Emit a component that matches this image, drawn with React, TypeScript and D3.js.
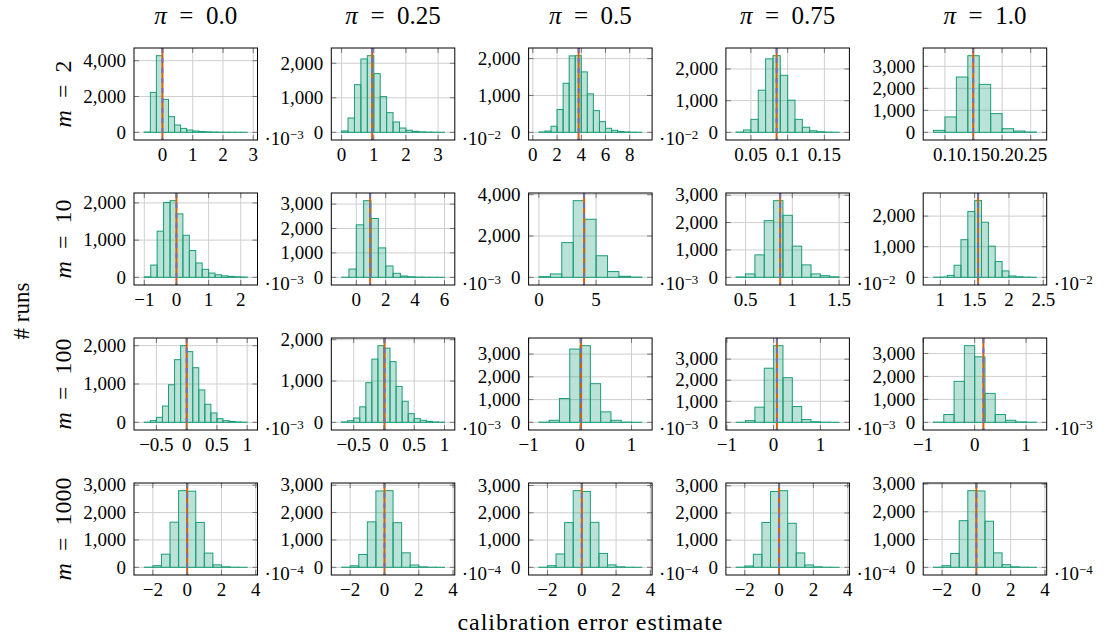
import React from 'react';
import * as d3 from 'd3';

const piLabels = ['0.0', '0.25', '0.5', '0.75', '1.0'];
const mLabels = ['2', '10', '100', '1000'];

// histogram bin range per panel [row][col]
const binLo = [
  [-0.6, 0, 0.5, 0.03, 0.08],
  [-1.0, -1.0, 0, 0.4, 0.9],
  [-0.7, -0.7, -0.8, -0.8, -0.8],
  [-2.5, -2.5, -2.5, -2.5, -2.5],
];
const binHi = [
  [2.8, 3.2, 9.0, 0.17, 0.26],
  [2.2, 6.0, 9, 1.5, 2.4],
  [1.0, 1.0, 1.2, 1.4, 1.2],
  [3.5, 3.5, 3.5, 3.5, 3.5],
];

const countsM2 = [
  [20, 2230, 4280, 1840, 875, 410, 220, 130, 75, 50, 30, 20, 12, 8, 5, 3, 2],
  [40, 415, 1380, 2125, 2220, 1700, 1035, 570, 300, 125, 60, 30, 15, 8, 4, 2],
  [10, 35, 165, 620, 1330, 2075, 2080, 1640, 1045, 590, 290, 110, 55, 25, 12, 5, 3],
  [10, 75, 410, 1330, 2320, 2420, 1800, 1015, 410, 160, 50, 20, 8, 3],
  [90, 700, 2515, 3485, 2180, 850, 165, 60, 15],
];
const countsM10 = [
  [15, 330, 1240, 2010, 2060, 1705, 1130, 720, 385, 215, 115, 70, 40, 25, 15, 8],
  [5, 340, 2150, 3140, 2410, 1205, 465, 165, 55, 25, 12, 6, 3, 2],
  [35, 165, 1680, 3710, 2810, 1045, 280, 50, 15],
  [15, 125, 820, 2070, 2800, 2265, 1140, 455, 125, 60, 20],
  [5, 10, 65, 395, 1230, 2150, 2505, 1800, 1020, 515, 210, 45, 20, 8, 3],
];
const countsM100 = [
  [5, 45, 130, 425, 980, 1635, 2000, 1845, 1425, 845, 470, 245, 95, 45, 25, 10, 5],
  [10, 40, 105, 375, 960, 1530, 1855, 1795, 1470, 870, 510, 210, 90, 50, 25, 10, 5],
  [10, 90, 1050, 3220, 3370, 1700, 460, 90, 12, 3],
  [5, 80, 720, 2570, 3640, 2120, 750, 130, 30, 8, 3],
  [10, 340, 1785, 3340, 2855, 1260, 340, 90, 20, 5],
];
const countsM1000 = [
  [5, 60, 480, 1650, 2800, 2780, 1640, 520, 90, 20, 5, 2],
  [5, 55, 470, 1660, 2790, 2800, 1630, 530, 85, 18, 5, 2],
  [5, 60, 490, 1640, 2810, 2780, 1650, 510, 90, 20, 5, 2],
  [5, 50, 480, 1650, 2790, 2820, 1620, 530, 88, 20, 5, 2],
  [5, 60, 500, 1680, 2760, 2750, 1660, 520, 95, 20, 5, 2],
];
const counts = [countsM2, countsM10, countsM100, countsM1000];

const refLines = [
  [0.0, 0.95, 3.78, 0.085, 0.1495],
  [0.0, 0.94, 3.95, 0.87, 1.55],
  [0.0, 0.01, 0.02, 0.07, 0.17],
  [0, 0, 0, 0, 0],
];

const xTicks = [
  [[0, 1, 2, 3], [0, 1, 2, 3], [0, 2, 4, 6, 8], [0.05, 0.1, 0.15], [0.1, 0.15, 0.2, 0.25]],
  [[-1, 0, 1, 2], [0, 2, 4, 6], [0, 5], [0.5, 1, 1.5], [1, 1.5, 2, 2.5]],
  [[-0.5, 0, 0.5, 1], [-0.5, 0, 0.5, 1], [-1, 0, 1], [-1, 0, 1], [-1, 0, 1]],
  [[-2, 0, 2, 4], [-2, 0, 2, 4], [-2, 0, 2, 4], [-2, 0, 2, 4], [-2, 0, 2, 4]],
];
const yTicks = [
  [[0, 2000, 4000], [0, 1000, 2000], [0, 1000, 2000], [0, 1000, 2000], [0, 1000, 2000, 3000]],
  [[0, 1000, 2000], [0, 1000, 2000, 3000], [0, 2000, 4000], [0, 1000, 2000, 3000], [0, 1000, 2000]],
  [[0, 1000, 2000], [0, 1000, 2000], [0, 1000, 2000, 3000], [0, 1000, 2000, 3000], [0, 1000, 2000, 3000]],
  [[0, 1000, 2000, 3000], [0, 1000, 2000, 3000], [0, 1000, 2000, 3000], [0, 1000, 2000, 3000], [0, 1000, 2000, 3000]],
];
// exponent of the x-axis scale label (null = none)
const scaleExp = [
  ['−3', '−2', '−2', null, null],
  ['−3', '−3', '−3', '−2', '−2'],
  ['−3', '−3', '−3', '−3', '−3'],
  ['−4', '−4', '−4', '−4', '−4'],
];

const W = 1112;
const H = 638;
const left0 = 134;
const colStep = 197.3;
const top0 = 48;
const rowStep = 145;
const panelW = 123.5;
const panelH = 92;
const font = "'Liberation Serif', 'Times New Roman', serif";
const tickFont = 19;

const green = '#1b9e77';
const orange = '#d95f02';
const purple = '#7570b3';

const fmtX = (v: number) => String(v).replace('-', '−');
const fmtY = d3.format(',');

function Panel({ r, c }: { r: number; c: number }) {
  const x0 = left0 + c * colStep;
  const y0 = top0 + r * rowStep;
  const cnt = counts[r][c];
  const lo = binLo[r][c];
  const hi = binHi[r][c];
  const bw = (hi - lo) / cnt.length;
  const pad = 0.1 * (hi - lo);
  const x = d3.scaleLinear().domain([lo - pad, hi + pad]).range([x0, x0 + panelW]);
  const maxC = d3.max(cnt) as number;
  const y = d3.scaleLinear().domain([-0.1 * maxC, 1.1 * maxC]).range([y0 + panelH, y0]);
  const tl = 5;
  const exp = scaleExp[r][c];

  return (
    <g>
      {/* grid */}
      {xTicks[r][c].map((t) => (
        <line key={'gx' + t} x1={x(t)} x2={x(t)} y1={y0} y2={y0 + panelH} stroke="#cfcfcf" strokeWidth={1} />
      ))}
      {yTicks[r][c].map((t) => (
        <line key={'gy' + t} x1={x0} x2={x0 + panelW} y1={y(t)} y2={y(t)} stroke="#cfcfcf" strokeWidth={1} />
      ))}
      {/* bars */}
      {cnt.map((v, i) => {
        const a = x(lo + i * bw);
        const b = x(lo + (i + 1) * bw);
        return (
          <rect key={'b' + i} x={a} y={y(v)} width={b - a} height={y(0) - y(v)}
            fill={green} fillOpacity={0.3} stroke={green} strokeWidth={1} />
        );
      })}
      {/* reference lines */}
      <line x1={x(refLines[r][c])} x2={x(refLines[r][c])} y1={y0} y2={y0 + panelH} stroke={orange} strokeWidth={2} />
      <line x1={x(refLines[r][c])} x2={x(refLines[r][c])} y1={y0} y2={y0 + panelH} stroke={purple} strokeWidth={2} strokeDasharray="5,5" />
      {/* ticks */}
      {xTicks[r][c].map((t) => (
        <g key={'tx' + t}>
          <line x1={x(t)} x2={x(t)} y1={y0 + panelH} y2={y0 + panelH - tl} stroke="#777" />
          <line x1={x(t)} x2={x(t)} y1={y0} y2={y0 + tl} stroke="#777" />
          <text x={x(t)} y={y0 + panelH + 21} textAnchor="middle" fontSize={tickFont}>{fmtX(t)}</text>
        </g>
      ))}
      {yTicks[r][c].map((t) => (
        <g key={'ty' + t}>
          <line x1={x0} x2={x0 + tl} y1={y(t)} y2={y(t)} stroke="#777" />
          <line x1={x0 + panelW} x2={x0 + panelW - tl} y1={y(t)} y2={y(t)} stroke="#777" />
          <text x={x0 - 8} y={y(t)} dy="0.33em" textAnchor="end" fontSize={tickFont}>{fmtY(t)}</text>
        </g>
      ))}
      <rect x={x0} y={y0} width={panelW} height={panelH} fill="none" stroke="#000" strokeWidth={1} />
      {exp && (
        <text x={x0 + panelW + 7} y={y0 + panelH + 5} fontSize={tickFont}>
          ·10<tspan fontSize={13} dy={-6}>{exp}</tspan>
        </text>
      )}
    </g>
  );
}

export default function App() {
  return (
    <svg width={W} height={H} style={{ position: 'absolute', left: 0, top: 0, background: '#fff', fontFamily: font }}
      fill="#000">
      {piLabels.map((p, c) => (
        <text key={'t' + c} x={left0 + c * colStep + panelW / 2} y={24} textAnchor="middle" fontSize={25}>
          <tspan fontStyle="italic">π</tspan>{'\u2002=\u2002'}{p}
        </text>
      ))}
      {mLabels.map((m, r) => (
        <text key={'m' + r} transform={`translate(64,${top0 + r * rowStep + panelH / 2}) rotate(-90)`}
          dy="0.3em" textAnchor="middle" fontSize={24}>
          <tspan fontStyle="italic">m</tspan>{'\u2002=\u2002'}{m}
        </text>
      ))}
      <text transform="translate(22,311) rotate(-90)" dy="0.3em" textAnchor="middle" fontSize={23}># runs</text>
      <text x={590} y={630} textAnchor="middle" fontSize={24} textLength={265} lengthAdjust="spacing">
        calibration error estimate
      </text>
      {mLabels.map((_, r) => piLabels.map((__, c) => <Panel key={r + '-' + c} r={r} c={c} />))}
    </svg>
  );
}
